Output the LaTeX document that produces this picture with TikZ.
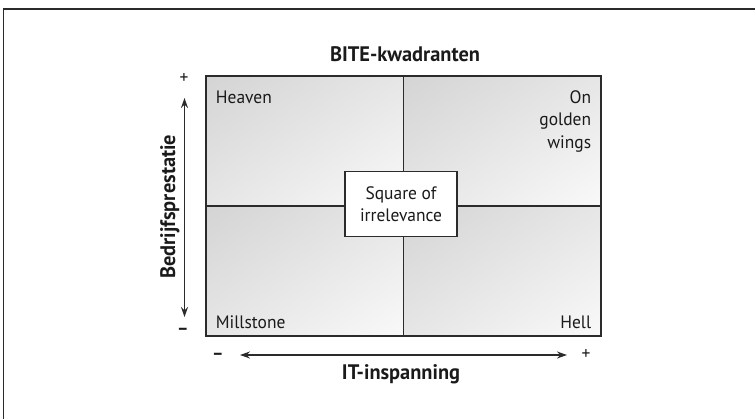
\documentclass[tikz,border=0pt]{standalone}
\usepackage{fontspec}
\setmainfont{PT Sans}[FakeStretch=0.97]
\usetikzlibrary{arrows.meta,shadings}
\definecolor{ink}{HTML}{1A1A1A}
\definecolor{edge}{HTML}{2B2B2B}
\definecolor{qdark}{HTML}{D4D4D4}
\definecolor{qmid}{HTML}{E6E6E6}
\definecolor{qlight}{HTML}{F9F9F9}
\tikzset{
  quad/.style={draw=edge, line width=1.1pt, minimum width=197.5pt, minimum height=130pt,
    inner sep=0pt, upper left=qdark, upper right=qmid, lower left=qmid, lower right=qlight},
  lbl/.style={text=ink, inner sep=0pt, font=\fontsize{18}{22.5}\selectfont},
  ttl/.style={text=ink, inner sep=0pt, font=\fontsize{21}{25}\selectfont\bfseries},
  axis/.style={draw=edge, line width=1.5pt, {Stealth[length=10pt,width=7pt]}-{Stealth[length=10pt,width=7pt]}},
  frameline/.style={draw=edge, line width=1.6pt}
}
\begin{document}
\begin{tikzpicture}[x=1pt,y=-1pt]
\useasboundingbox (0,0) rectangle (755,418);
% outer frame (top and left edges)
\coordinate (fa) at (3.5,430);
\coordinate (fb) at (3.5,9);
\coordinate (fc) at (765,9);
\draw[frameline] (fa) -- (fb) -- (fc);
% title
\node[ttl, anchor=base] (title) at (405,61.7) {BITE-kwadranten};
% quadrants
\node[quad] (qtl) at (304.75,141) {};
\node[quad] (qtr) at (502.25,141) {};
\node[quad] (qbl) at (304.75,271) {};
\node[quad] (qbr) at (502.25,271) {};
% labels
\node[lbl, anchor=base west] (heaven) at (215.7,103.3) {Heaven};
\node[lbl, anchor=north east, align=right] (golden) at (591.3,90.3) {On\\golden\\wings};
\node[lbl, anchor=base west] (mill) at (215.7,328.3) {Millstone};
\node[lbl, anchor=base east] (hell) at (591.3,328.3) {Hell};
% centre box
\node[lbl, draw=edge, line width=1.1pt, fill=white, minimum width=112pt, minimum height=65pt, align=center] (sq) at (401,204.2) {Square of\\irrelevance};
% vertical axis
\coordinate (vtop) at (184.5,98);
\coordinate (vbot) at (184.5,317);
\draw[axis] (vbot) -- (vtop);
\node[lbl] (vplus) at (184,79) {+};
\node[lbl, font=\fontsize{18}{22}\selectfont\bfseries] (vminus) at (183,331.5) {–};
\node[ttl, rotate=90, anchor=base] (vlab) at (175,206.7) {Bedrijfsprestatie};
% horizontal axis
\coordinate (hleft) at (240,355);
\coordinate (hright) at (567,355);
\draw[axis] (hleft) -- (hright);
\node[lbl, font=\fontsize{18}{22}\selectfont\bfseries] (hminus) at (218,356) {–};
\node[lbl] (hplus) at (586,354) {+};
\node[ttl, anchor=base] (hlab) at (401,379) {IT-inspanning};
\end{tikzpicture}
\end{document}
